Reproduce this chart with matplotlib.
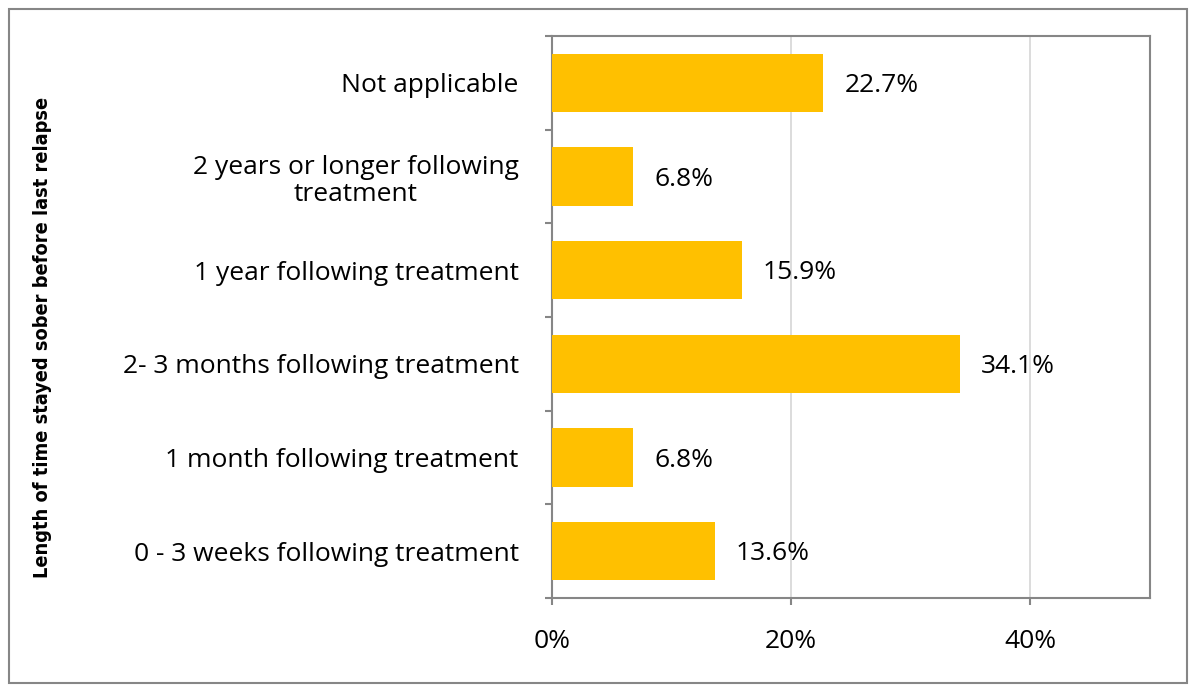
import matplotlib; matplotlib.use("Agg")
import matplotlib.pyplot as plt
from matplotlib.patches import Rectangle

# survey answers, bottom to top
CATS = ["0 - 3 weeks following treatment",
        "1 month following treatment",
        "2- 3 months following treatment",
        "1 year following treatment",
        "2 years or longer following\ntreatment",
        "Not applicable"]
PCT = [13.6, 6.8, 34.1, 15.9, 6.8, 22.7]
XTICKS = [0, 20, 40]
YLABEL = "Length of time stayed sober before last relapse"

BAR = "#FFC000"; EDGE = "#868686"; GRID = "#D9D9D9"
plt.rcParams["font.family"] = ["Open Sans", "DejaVu Sans"]
FS = 19

fig = plt.figure(figsize=(11.95, 6.86), dpi=100)
ax = fig.add_axes([552/1195, 1-598/686, 598/1195, 562/686])

y = range(len(CATS))
ax.barh(y, PCT, height=0.62, color=BAR, zorder=3)
for yi, v in zip(y, PCT):
    ax.annotate(f"{v:.1f}%", (v, yi), xytext=(15, -2), textcoords="offset points",
                va="center", ha="left", fontsize=FS)

ax.set_xlim(0, 50); ax.set_ylim(-0.5, len(CATS)-0.5)
ax.set_xticks(XTICKS); ax.set_xticklabels([f"{t}%" for t in XTICKS], fontsize=FS)
ax.set_yticks(list(y))
ax.set_yticklabels(CATS, fontsize=FS, multialignment="center", linespacing=1.15)
ax.set_yticks([i-0.5 for i in range(len(CATS)+1)], minor=True)
ax.tick_params(axis="y", which="major", length=0, pad=24)
ax.tick_params(axis="y", which="minor", length=5, color=EDGE, width=1.5)
ax.tick_params(axis="x", length=5, color=EDGE, width=1.5, pad=17)
ax.xaxis.grid(True, color=GRID, lw=1.3, zorder=0)
for s in ax.spines.values():
    s.set_color(EDGE); s.set_linewidth(1.5)

fig.text(43/1195, 1-337/686, YLABEL, rotation=90, ha="center", va="center",
         fontsize=14.3, fontweight="bold", fontstretch="condensed", family="DejaVu Sans")

fig.patches.append(Rectangle((9/1195, 3/686), 1178/1195, 674/686, transform=fig.transFigure,
                             fill=False, edgecolor=EDGE, lw=1.5))
fig.savefig("out.png", dpi=100)
